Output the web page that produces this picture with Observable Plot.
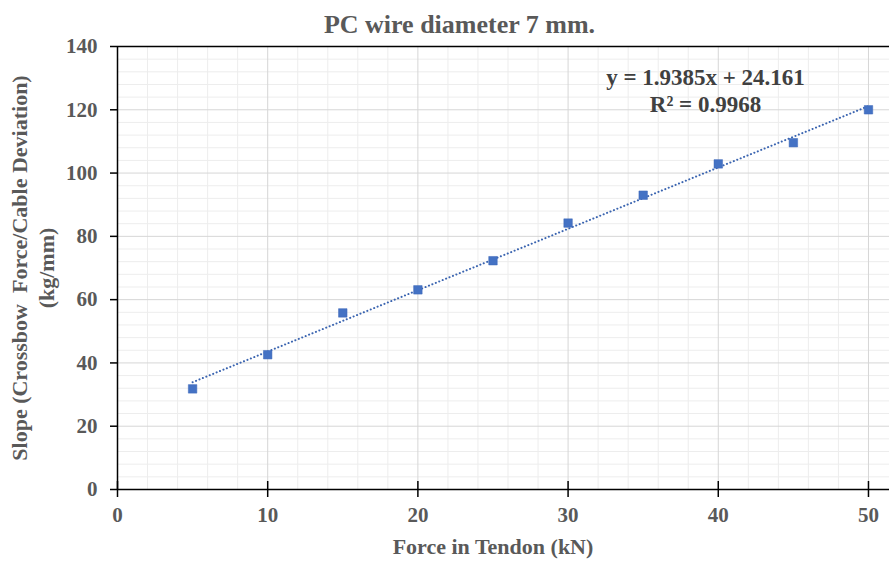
<!DOCTYPE html>
<html>
<head>
<meta charset="utf-8">
<script src="https://cdn.jsdelivr.net/npm/d3@7"></script>
<script src="https://cdn.jsdelivr.net/npm/@observablehq/plot@0.6"></script>
<style>
  html, body { margin: 0; padding: 0; background: #fff; }
  #chart { width: 889px; height: 561px; }
</style>
</head>
<body>
<div id="chart"></div>
<script>
// ---- data ----
const forceKN = [5, 10, 15, 20, 25, 30, 35, 40, 45, 50];
const slopeKgMm = [31.8, 42.6, 55.8, 63.1, 72.3, 84.2, 93.0, 102.9, 109.6, 120.0];
const xTicks = [0, 10, 20, 30, 40, 50];
const yTicks = [0, 20, 40, 60, 80, 100, 120, 140];
const xMinor = [2, 4, 6, 8, 12, 14, 16, 18, 22, 24, 26, 28, 32, 34, 36, 38, 42, 44, 46, 48, 52];
const yMinor = [4, 8, 12, 16, 24, 28, 32, 36, 44, 48, 52, 56, 64, 68, 72, 76, 84, 88, 92, 96, 104, 108, 112, 116, 124, 128, 132, 136];
const titleText = "PC wire diameter 7 mm.";
const xLabel = "Force in Tendon (kN)";
const yLabelLines = ["Slope (Crossbow  Force/Cable Deviation)", "(kg/mm)"];
const eqLines = ["y = 1.9385x + 24.161", "R² = 0.9968"];

const points = forceKN.map((x, i) => ({x, y: slopeKgMm[i]}));
const font = "Liberation Serif, Times New Roman, serif";
const gray = "#595959";

const chart = Plot.plot({
  width: 889,
  height: 561,
  marginLeft: 117,
  marginRight: 0,
  marginTop: 46,
  marginBottom: 72,
  x: {domain: [0, 51.4]},
  y: {domain: [0, 140]},
  style: {fontFamily: font, background: "#fff", overflow: "visible"},
  marks: [
    Plot.gridX(xMinor, {stroke: "#ededed", strokeOpacity: 1}),
    Plot.gridY(yMinor, {stroke: "#ededed", strokeOpacity: 1}),
    Plot.gridX(xTicks.filter(d => d > 0), {stroke: "#d6d6d6", strokeOpacity: 1}),
    Plot.gridY(yTicks.filter(d => d > 0 && d < 140), {stroke: "#d6d6d6", strokeOpacity: 1}),
    Plot.ruleY([d3.max(yTicks)], {stroke: "#000", strokeWidth: 1.5}),
    Plot.ruleY([0], {stroke: "#000", strokeWidth: 1.5}),
    Plot.ruleX([0], {stroke: "#000", strokeWidth: 1.5}),
    // y ticks
    Plot.axisY({ticks: yTicks, tickSize: 7, tickFormat: () => "", label: null, color: "#000", strokeWidth: 1.5}),
    Plot.axisY({ticks: yTicks, tickSize: 0, tickPadding: 20, label: null, color: gray,
      fontSize: 21, fontWeight: "bold", fontFamily: font}),
    // x ticks (crossing)
    Plot.axisX({ticks: xTicks, tickSize: 16, dy: -8, tickFormat: () => "", label: null, color: "#000", strokeWidth: 1.5}),
    Plot.axisX({ticks: xTicks, tickSize: 0, tickPadding: 18, label: null, color: gray,
      fontSize: 21, fontWeight: "bold", fontFamily: font}),
    // trendline
    Plot.linearRegressionY(points, {x: "x", y: "y", ci: 0, stroke: "#3a64b0", strokeWidth: 2,
      strokeDasharray: "0.1 3.6", strokeLinecap: "round"}),
    // points
    Plot.dot(points, {x: "x", y: "y", symbol: "square", r: 4.8, fill: "#4472C4", stroke: "#3d67b8", strokeWidth: 0.5}),
    // equation
    Plot.text([eqLines.join("\n")], {frameAnchor: "top-left", dx: 588, dy: 19, text: d => d,
      fontSize: 23, fontWeight: "bold", fill: "#404040", lineHeight: 1.18, textAnchor: "middle"}),
    // title
    Plot.text([titleText], {frameAnchor: "top-left", dx: 342, dy: -32, text: d => d,
      fontSize: 26, fontWeight: "bold", fill: gray, textAnchor: "middle"}),
    // x label
    Plot.text([xLabel], {x: d3.mean(xTicks), frameAnchor: "bottom", dy: 64, text: d => d,
      fontSize: 22, fontWeight: "bold", fill: gray, textAnchor: "middle"}),
    // y label
    Plot.text([yLabelLines.join("\n")], {frameAnchor: "left", dx: -86, text: d => d, rotate: -90,
      fontSize: 22, fontWeight: "bold", fill: gray, lineHeight: 1.23, textAnchor: "middle"})
  ]
});
document.getElementById("chart").appendChild(chart);
</script>
</body>
</html>
